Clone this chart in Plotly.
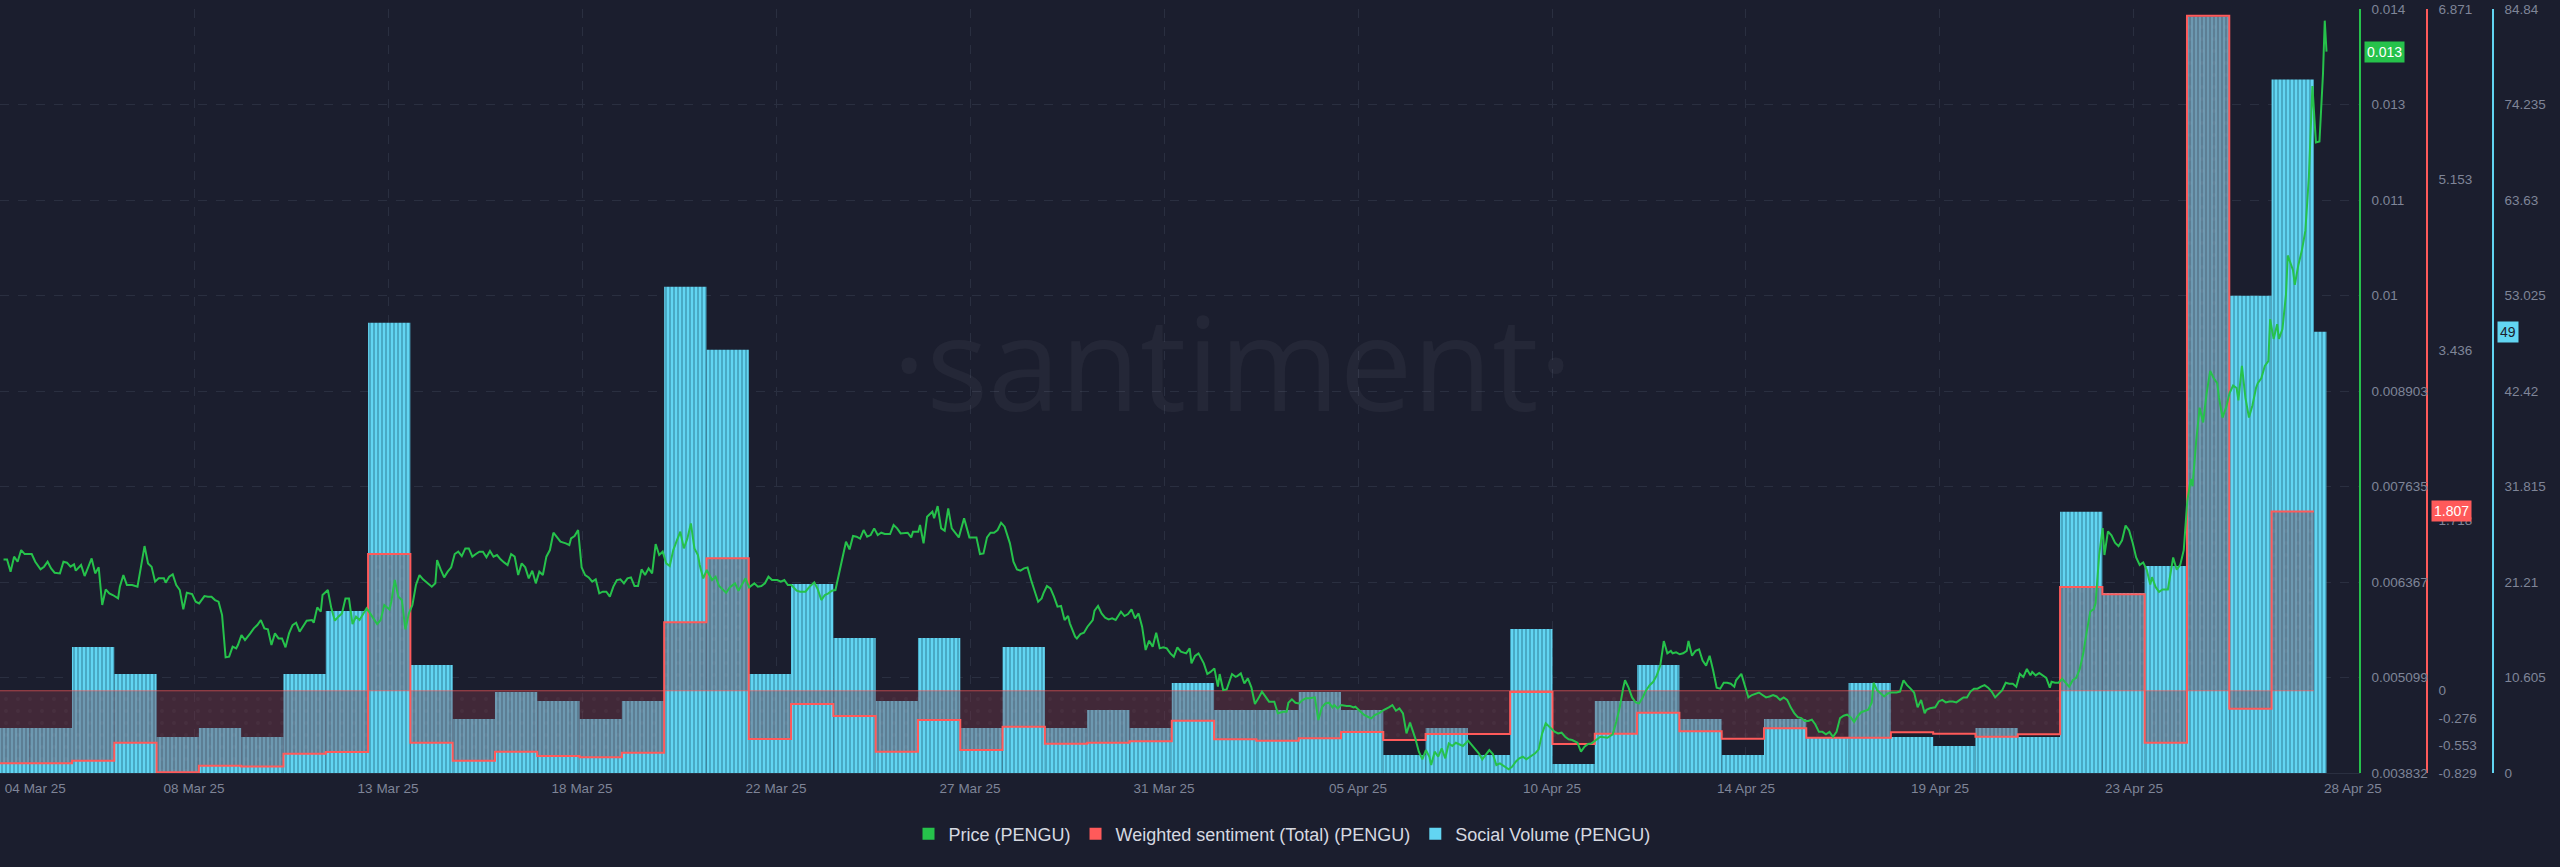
import numpy as np
import pandas as pd
import plotly.graph_objects as go

# ---------------- data ----------------
DAY0 = pd.Timestamp("2025-03-04 01:30")       # start of the first daily bucket
PRICE_T0 = pd.Timestamp("2025-03-04 08:40")   # origin of the price hour offsets
VIEW = [pd.Timestamp("2025-03-04 08:40"), pd.Timestamp("2025-04-29 03:40")]

# daily social volume, 04 Mar .. 28 Apr (last day partial)
social_volume = [5, 5, 14, 11, 4, 5, 4, 11, 18, 50, 12, 6, 9, 8, 6, 8, 54, 47, 11, 21,
                 15, 8, 15, 5, 14, 5, 7, 5, 10, 7, 7, 9, 7, 2, 5, 2, 16, 1, 8, 12,
                 6, 2, 6, 4, 10, 4, 3, 5, 4, 29, 20, 23, 84, 53, 77, 49]

# daily weighted sentiment, 04 Mar .. 27 Apr
weighted_sentiment = [-0.731, -0.731, -0.705, -0.524, -0.821, -0.757, -0.763, -0.634, -0.617, 1.378,
                      -0.524, -0.705, -0.614, -0.658, -0.671, -0.624, 0.690, 1.335, -0.486, -0.134,
                      -0.254, -0.614, -0.295, -0.597, -0.362, -0.534, -0.524, -0.510, -0.302, -0.489,
                      -0.503, -0.479, -0.416, -0.496, -0.436, -0.436, -0.013, -0.537, -0.434, -0.221,
                      -0.409, -0.483, -0.379, -0.473, -0.473, -0.419, -0.434, -0.464, -0.439, 1.046,
                      0.972, -0.523, 6.803, -0.181, 1.807]

# price (USD), hours after PRICE_T0
price_hours = [2, 4, 6, 8, 10, 12, 14, 18, 20, 23, 25, 27, 29, 31, 34, 36, 38, 40, 42, 43, 46, 48, 50, 52, 54, 56, 58, 60, 62, 64, 67, 68, 70, 72, 75, 78, 80, 82, 84, 86, 88, 90, 93, 94, 96, 98, 100, 102, 104, 106, 109, 111, 113, 116, 118, 120, 122, 124, 126, 128, 130, 132, 134, 135, 137, 139, 142, 144, 146, 148, 150, 152, 154, 156, 158, 160, 162, 164, 166, 168, 170, 172, 174, 177, 178, 180, 182, 183, 186, 188, 190, 192, 194, 196, 198, 200, 202, 204, 206, 208, 210, 212, 214, 216, 218, 221, 222, 224, 226, 228, 230, 232, 234, 236, 238, 240, 243, 245, 247, 248, 250, 252, 254, 256, 258, 260, 262, 264, 266, 268, 270, 272, 274, 276, 278, 280, 282, 284, 286, 288, 290, 292, 294, 296, 298, 300, 302, 304, 306, 308, 310, 312, 314, 316, 318, 321, 323, 324, 326, 328, 330, 332, 334, 336, 338, 340, 342, 344, 346, 348, 350, 352, 354, 356, 358, 360, 362, 364, 366, 368, 370, 372, 374, 376, 378, 380, 382, 384, 386, 388, 390, 392, 394, 396, 397, 399, 401, 404, 406, 408, 410, 412, 414, 417, 419, 421, 423, 425, 428, 430, 432, 434, 436, 438, 441, 443, 445, 447, 449, 452, 454,
               457, 459, 462, 464, 466, 468, 470, 472, 474, 477, 479, 480, 482, 484, 486, 488, 490, 492, 494, 496, 498, 500, 502, 505, 507, 509, 511, 513, 515, 517, 518, 521, 522, 524, 526, 529, 530, 532, 534, 536, 538, 540, 542, 544, 547, 548, 550, 552, 554, 556, 558, 560, 562, 564, 566, 568, 570, 573, 575, 577, 579, 581, 583, 585, 587, 589, 591, 592, 594, 596, 598, 600, 602, 604, 606, 607, 610, 611, 613, 615, 617, 620, 621, 623, 625, 627, 629, 631, 633, 636, 638, 640, 642, 644, 646, 648, 650, 652, 654, 656, 658, 660, 662, 664, 666, 668, 670, 673, 675, 676, 678, 680, 683, 685, 687, 689, 691, 692, 694, 696, 699, 701, 702, 704, 706, 708, 710, 712, 714, 716, 718, 720, 723, 725, 728, 730, 731, 733, 735, 737, 739, 741, 743, 746, 748, 750, 752, 754, 756, 757, 759, 761, 764, 766, 768, 769, 772, 774, 776, 778, 780, 783, 785, 786, 788, 790, 792, 794, 796, 798, 800, 803, 805, 807, 809, 811, 812, 814, 816, 818, 820, 822, 824, 826, 828, 830, 833, 835, 837, 839, 841, 843, 845, 847, 849, 851, 853, 856, 858, 860, 862, 864, 866, 868, 871, 873, 875, 877, 879, 882, 884, 886, 888, 890, 892, 895, 897, 899, 901, 903, 905, 907,
               908, 912, 915, 917, 919, 921, 922, 924, 926, 928, 930, 932, 934, 936, 938, 940, 942, 943, 944, 946, 948, 949, 951, 953, 955, 957, 958, 960, 962, 964, 966, 968, 970, 972, 974, 976, 978, 980, 982, 984, 985, 988, 990, 992, 994, 996, 998, 1000, 1002, 1004, 1006, 1008, 1010, 1012, 1014, 1016, 1018, 1020, 1022, 1024, 1026, 1028, 1030, 1032, 1034, 1036, 1038, 1040, 1042, 1044, 1046, 1048, 1050, 1052, 1054, 1056, 1058, 1060, 1062, 1063, 1065, 1067, 1069, 1071, 1073, 1076, 1078, 1080, 1082, 1084, 1086, 1088, 1090, 1092, 1093, 1095, 1098, 1100, 1102, 1104, 1106, 1108, 1110, 1112, 1114, 1116, 1118, 1120, 1122, 1124, 1126, 1128, 1130, 1132, 1134, 1136, 1138, 1140, 1142, 1144, 1146, 1148, 1150, 1152, 1153, 1155, 1157, 1159, 1161, 1163, 1164, 1166, 1168, 1170, 1172, 1174, 1176, 1178, 1180, 1182, 1184, 1186, 1188, 1189, 1191, 1193, 1194, 1196, 1198, 1200, 1202, 1204, 1206, 1208, 1210, 1212, 1214, 1216, 1218, 1220, 1221, 1223, 1225, 1227, 1230, 1232, 1233, 1235, 1237, 1239, 1240, 1241, 1243, 1244, 1246, 1248, 1250, 1252, 1254, 1256, 1258, 1259, 1261, 1263, 1265, 1267, 1269, 1270, 1272, 1274, 1276, 1278, 1280, 1281, 1283, 1285, 1287, 1288, 1290, 1292, 1293, 1295, 1297, 1298, 1301, 1302, 1304, 1306, 1308, 1310, 1312, 1313, 1314, 1316, 1318, 1319, 1320]

price_usd = [0.006668, 0.006668, 0.006505, 0.006704, 0.006637, 0.006792, 0.006739, 0.006739, 0.006637, 0.006535, 0.006571, 0.006637, 0.006549, 0.006491, 0.006482, 0.006637, 0.006624, 0.006571, 0.006602, 0.006518, 0.006593, 0.006447, 0.006562, 0.006681, 0.006482, 0.006562, 0.006062, 0.006270, 0.006217, 0.006195, 0.006150, 0.006306, 0.006460, 0.006328, 0.006328, 0.006306, 0.006571, 0.006845, 0.006615, 0.006571, 0.006372, 0.006416, 0.006416, 0.006359, 0.006438, 0.006469, 0.006328, 0.006261, 0.006004, 0.006226, 0.006208, 0.006106, 0.006084, 0.006181, 0.006173, 0.006173, 0.006128, 0.006106, 0.005929, 0.005367, 0.005376, 0.005509, 0.005487, 0.005531, 0.005664, 0.005597, 0.005686, 0.005752, 0.005796, 0.005863, 0.005752, 0.005739, 0.005531, 0.005686, 0.005619, 0.005619, 0.005500, 0.005686, 0.005796, 0.005827, 0.005708, 0.005783, 0.005854, 0.005863, 0.005827, 0.006031, 0.005973, 0.006195, 0.006261, 0.006018, 0.005854, 0.005907, 0.005951, 0.006150, 0.006150, 0.005810, 0.005907, 0.005863, 0.005951, 0.006018, 0.005951, 0.005885, 0.005810, 0.005863, 0.006062, 0.006004, 0.006106, 0.006394, 0.006173, 0.006128, 0.005739, 0.005951, 0.006062, 0.006328, 0.006460, 0.006403, 0.006350, 0.006306, 0.006350, 0.006659, 0.006535, 0.006429, 0.006505, 0.006562, 0.006739, 0.006770, 0.006712, 0.006814, 0.006814, 0.006704, 0.006739, 0.006770, 0.006770, 0.006695, 0.006779, 0.006704, 0.006726, 0.006668, 0.006628, 0.006593, 0.006739, 0.006704, 0.006460, 0.006615, 0.006562, 0.006416, 0.006518, 0.006350, 0.006505, 0.006460, 0.006704, 0.006792, 0.007022, 0.006960, 0.006903, 0.006881, 0.006859, 0.006947, 0.006978, 0.007058, 0.006562, 0.006460, 0.006429, 0.006372, 0.006403, 0.006217, 0.006239, 0.006239, 0.006173, 0.006306, 0.006394, 0.006403, 0.006350, 0.006416, 0.006429, 0.006314, 0.006314, 0.006535, 0.006460, 0.006549, 0.006482, 0.006872, 0.006726, 0.006770, 0.006615, 0.006580, 0.006792, 0.006916, 0.007036, 0.006814, 0.006947, 0.007146, 0.006814, 0.006726, 0.006593, 0.006416, 0.006527, 0.006394, 0.006438, 0.006314, 0.006270, 0.006226, 0.006297, 0.006350, 0.006252, 0.006328, 0.006416, 0.006297, 0.006350, 0.006306, 0.006314, 0.006350, 0.006438, 0.006394, 0.006394, 0.006372, 0.006394, 0.006328, 0.006328, 0.006252, 0.006239,
             0.006239, 0.006297, 0.006363, 0.006270, 0.006128, 0.006195, 0.006217, 0.006252, 0.006261, 0.006571, 0.006814, 0.006903, 0.006801, 0.006978, 0.006969, 0.006943, 0.007058, 0.006969, 0.006991, 0.007080, 0.006991, 0.007022, 0.007005, 0.007005, 0.007124, 0.007080, 0.007013, 0.007013, 0.007022, 0.006960, 0.007036, 0.007036, 0.007124, 0.006881, 0.007235, 0.007301, 0.007213, 0.007376, 0.007080, 0.007049, 0.007345, 0.007080, 0.007013, 0.006960, 0.007213, 0.007137, 0.006960, 0.006960, 0.006960, 0.006739, 0.006748, 0.006960, 0.007022, 0.007022, 0.007058, 0.007155, 0.007102, 0.006881, 0.006637, 0.006535, 0.006518, 0.006549, 0.006562, 0.006394, 0.006239, 0.006106, 0.006150, 0.006217, 0.006314, 0.006283, 0.006173, 0.006040, 0.006049, 0.005863, 0.005916, 0.005819, 0.005642, 0.005619, 0.005677, 0.005695, 0.005774, 0.005863, 0.005987, 0.006049, 0.005951, 0.005894, 0.005872, 0.005885, 0.005863, 0.005973, 0.005916, 0.005942, 0.006004, 0.005885, 0.005951, 0.005774, 0.005465, 0.005588, 0.005509, 0.005695, 0.005487, 0.005500, 0.005487, 0.005420, 0.005376, 0.005500, 0.005442, 0.005420, 0.005487, 0.005288, 0.005385, 0.005420, 0.005288, 0.005146, 0.005177, 0.005221, 0.004978, 0.005146, 0.004933, 0.004942, 0.005146, 0.005110, 0.005119, 0.005155, 0.005022, 0.005088, 0.004969, 0.004748, 0.004823, 0.004911, 0.004845, 0.004779, 0.004779, 0.004624, 0.004646, 0.004646, 0.004765, 0.004810, 0.004765, 0.004756, 0.004801, 0.004823, 0.004823, 0.004836, 0.004535, 0.004703, 0.004756, 0.004765, 0.004703, 0.004734, 0.004690, 0.004734, 0.004721, 0.004721, 0.004703, 0.004712, 0.004646, 0.004602, 0.004579, 0.004557, 0.004602, 0.004633, 0.004668, 0.004677, 0.004703, 0.004734, 0.004659, 0.004690, 0.004624, 0.004358, 0.004500, 0.004292, 0.004115, 0.004013, 0.004137, 0.004048, 0.003938, 0.004115, 0.004048, 0.004159, 0.004026, 0.004225, 0.004190, 0.004234, 0.004217, 0.004190, 0.004261, 0.004203, 0.004137, 0.004093, 0.004013, 0.004084, 0.004137, 0.004084, 0.003938, 0.003960, 0.003924, 0.003880, 0.003916, 0.003982, 0.004026, 0.004048, 0.004013, 0.004048, 0.004093, 0.004146, 0.004358, 0.004491, 0.004447, 0.004380, 0.004358, 0.004367, 0.004314, 0.004279, 0.004270, 0.004234, 0.004115, 0.004181, 0.004217, 0.004225, 0.004261, 0.004292,
             0.004313, 0.004300, 0.004346, 0.004509, 0.004704, 0.004965, 0.005063, 0.004965, 0.004835, 0.004769, 0.004756, 0.004835, 0.004932, 0.004998, 0.005043, 0.005128, 0.005258, 0.005421, 0.005584, 0.005421, 0.005454, 0.005421, 0.005434, 0.005408, 0.005421, 0.005454, 0.005584, 0.005389, 0.005454, 0.005474, 0.005324, 0.005258, 0.005389, 0.005193, 0.004965, 0.004952, 0.005030, 0.005030, 0.005017, 0.004978, 0.005063, 0.005148, 0.004998, 0.004835, 0.004867, 0.004887, 0.004900, 0.004867, 0.004835, 0.004848, 0.004867, 0.004848, 0.004802, 0.004835, 0.004802, 0.004704, 0.004626, 0.004574, 0.004561, 0.004522, 0.004522, 0.004541, 0.004476, 0.004378, 0.004378, 0.004346, 0.004378, 0.004313, 0.004378, 0.004561, 0.004593, 0.004606, 0.004574, 0.004509, 0.004587, 0.004639, 0.004652, 0.004672, 0.004769, 0.005030, 0.004932, 0.004887, 0.004848, 0.004887, 0.004900, 0.004900, 0.004913, 0.005063, 0.004998, 0.004952, 0.004900, 0.004704, 0.004802, 0.004626, 0.004672, 0.004691, 0.004704, 0.004782, 0.004802, 0.004769, 0.004782, 0.004782, 0.004769, 0.004802, 0.004835, 0.004835, 0.004913, 0.004952, 0.004952, 0.004978, 0.004998, 0.004965, 0.004913, 0.004835, 0.004887, 0.004932, 0.005030, 0.005017, 0.005017, 0.004978, 0.005148, 0.005108, 0.005213, 0.005128, 0.005174, 0.005128, 0.005161, 0.005128, 0.005095, 0.004965, 0.005043, 0.005030, 0.005030, 0.005082, 0.005030, 0.004978, 0.005063, 0.005095, 0.005213, 0.005421, 0.005715, 0.005976, 0.006008, 0.006087, 0.006726, 0.007084, 0.006726, 0.007039, 0.006986, 0.006889, 0.006843, 0.006921, 0.007117, 0.007052, 0.006889, 0.006693, 0.006595, 0.006628, 0.006530, 0.006334, 0.006432, 0.006302, 0.006237, 0.006269, 0.006269, 0.006530, 0.006693, 0.006530, 0.006595, 0.006791, 0.007117, 0.007443, 0.007736, 0.007639, 0.008225, 0.008682, 0.008486, 0.008877, 0.009171, 0.009073, 0.009008, 0.008812, 0.008551, 0.008682, 0.008877, 0.008975, 0.008943, 0.008780, 0.009236, 0.008812, 0.008551, 0.008714, 0.008943, 0.009008, 0.009073, 0.009236, 0.009301, 0.009856, 0.009595, 0.009790, 0.009595, 0.009725, 0.010182, 0.010703, 0.010508, 0.010312, 0.010573, 0.010768, 0.011029, 0.011747, 0.012953, 0.012529, 0.012203, 0.012216, 0.013116, 0.013820, 0.013409]

x_tick_labels = ["04 Mar 25", "08 Mar 25", "13 Mar 25", "18 Mar 25", "22 Mar 25", "27 Mar 25",
                 "31 Mar 25", "05 Apr 25", "10 Apr 25", "14 Apr 25", "19 Apr 25", "23 Apr 25", "28 Apr 25"]

price_range = [0.003832, 0.013975]
price_tick_labels = ["0.003832", "0.005099", "0.006367", "0.007635", "0.008903", "0.01", "0.011", "0.013", "0.014"]
sent_tick_vals = [-0.829, -0.553, -0.276, 0, 1.718, 3.436, 5.153, 6.871]
sent_range = [-0.829, 6.871]
social_range = [0, 84.84]
social_tick_labels = ["0", "10.605", "21.21", "31.815", "42.42", "53.025", "63.63", "74.235", "84.84"]

# ---------------- styling ----------------
BG = "#1b1e2e"
GRID = "#2a2f40"
TICK = "#7f8598"
GREEN = "#26c24b"
RED = "#ff5a5a"
CYAN = "#62d5f2"
FONT = "Liberation Sans, Arial, sans-serif"

PAPER_W = 2550.0
PLOT_RIGHT = 2360.0

def pad(r):
    e = (r[1] - r[0]) * 1e-6
    return [r[0] - e, r[1] + e]

# ---------------- derived series ----------------
n_days = len(social_volume)
day_starts = [DAY0 + pd.Timedelta(days=i) for i in range(n_days)]
price_times = [PRICE_T0 + pd.Timedelta(hours=h) for h in price_hours]
bar_ends = [s + pd.Timedelta(days=1) for s in day_starts]
bar_ends[-1] = price_times[-1]
bar_x = [s + (e - s) / 2 for s, e in zip(day_starts, bar_ends)]
bar_w = [(e - s).total_seconds() * 1000 for s, e in zip(day_starts, bar_ends)]

sent_x = day_starts[:len(weighted_sentiment)] + [day_starts[len(weighted_sentiment)]]
sent_y = weighted_sentiment + [weighted_sentiment[-1]]

fig = go.Figure()

fig.add_trace(go.Bar(
    x=bar_x, y=social_volume, width=bar_w, yaxis="y",
    marker=dict(color=CYAN, line=dict(width=0),
                pattern=dict(shape="|", fillmode="overlay", fgcolor="#1f6178",
                             size=4, solidity=0.38)),
    showlegend=False, hoverinfo="skip"))

fig.add_trace(go.Scatter(
    x=sent_x, y=sent_y, yaxis="y2", mode="lines", line=dict(color=RED, width=2, shape="hv"),
    fill="tozeroy", fillcolor="rgba(125,55,72,0.38)",
    fillpattern=dict(shape=".", fillmode="overlay", fgcolor="rgba(255,255,255,0.07)",
                     bgcolor="rgba(125,55,72,0.38)", size=12, solidity=0.08),
    showlegend=False, hoverinfo="skip"))

fig.add_trace(go.Scatter(
    x=[sent_x[0], sent_x[-1]], y=[0, 0], yaxis="y2", mode="lines",
    line=dict(color="rgba(255,90,90,0.65)", width=1.2), showlegend=False, hoverinfo="skip"))

fig.add_trace(go.Scatter(
    x=price_times, y=price_usd, yaxis="y3", mode="lines",
    line=dict(color=GREEN, width=2), showlegend=False, hoverinfo="skip"))

for name, col in [("Price (PENGU)", GREEN), ("Weighted sentiment (Total) (PENGU)", RED),
                  ("Social Volume (PENGU)", CYAN)]:
    fig.add_trace(go.Scatter(x=[None], y=[None], mode="markers", name=name,
                             marker=dict(symbol="square", size=12, color=col)))

# tick positions (hours after view start)
interior = [k * 110.07 for k in range(1, 12)]
x_tick_vals = [VIEW[0] + pd.Timedelta(hours=h) for h in [20] + interior + [1335]]
x_grid_vals = [VIEW[0] + pd.Timedelta(hours=h) for h in interior]

axis_font = dict(size=13.5, color=TICK, family=FONT)

fig.update_layout(
    width=2560, height=867,
    margin=dict(l=0, r=10, t=9, b=94),
    paper_bgcolor=BG, plot_bgcolor=BG,
    font=dict(family=FONT, color=TICK),
    legend=dict(orientation="h", x=1282 / PAPER_W, xanchor="center", y=-0.08, yanchor="middle",
                font=dict(size=18, color="#d6d9e1", family=FONT), bgcolor="rgba(0,0,0,0)",
                itemclick=False, itemdoubleclick=False, tracegroupgap=0),
    xaxis=dict(type="date", domain=[0, PLOT_RIGHT / PAPER_W], range=VIEW,
               tickmode="array", tickvals=x_tick_vals, ticktext=x_tick_labels,
               showgrid=False, ticks="", tickfont=axis_font, ticklabelstandoff=3,
               showline=True, linecolor="#2a2f40", linewidth=1, zeroline=False,
               automargin=False, fixedrange=True,
               minor=dict(tickmode="array", tickvals=x_grid_vals, showgrid=True,
                          gridcolor=GRID, griddash="dash", gridwidth=1, ticks="")),
    yaxis=dict(anchor="free", position=2493 / PAPER_W, side="right", range=pad(social_range),
               tickmode="array", tickvals=list(np.linspace(0, 84.84, 9)), ticktext=social_tick_labels,
               showgrid=True, gridcolor=GRID, griddash="dash", gridwidth=1, zeroline=False,
               showline=True, linecolor=CYAN, linewidth=1.5, ticks="", tickfont=axis_font,
               ticklabelstandoff=8, automargin=False, fixedrange=True),
    yaxis2=dict(overlaying="y", anchor="free", position=2427 / PAPER_W, side="right",
                range=pad(sent_range), tickmode="array", tickvals=sent_tick_vals,
                ticktext=[f"{v:g}" for v in sent_tick_vals], showgrid=False, zeroline=False,
                showline=True, linecolor=RED, linewidth=1.5, ticks="", tickfont=axis_font,
                ticklabelstandoff=8, automargin=False, fixedrange=True),
    yaxis3=dict(overlaying="y", anchor="free", position=PLOT_RIGHT / PAPER_W, side="right",
                range=pad(price_range), tickmode="array",
                tickvals=list(np.linspace(price_range[0], price_range[1], 9)),
                ticktext=price_tick_labels, showgrid=False, zeroline=False,
                showline=True, linecolor=GREEN, linewidth=1.5, ticks="", tickfont=axis_font,
                ticklabelstandoff=8, automargin=False, fixedrange=True),
)

# watermark
fig.add_annotation(text="·santiment·", xref="paper", yref="paper", x=1232 / PAPER_W, y=0.54,
                   xanchor="center", yanchor="middle", showarrow=False,
                   font=dict(size=130, color="rgba(255,255,255,0.045)", family="Open Sans, sans-serif"))

# last-value badges
badge_font = dict(size=14, family=FONT)
fig.add_annotation(text=f"{price_usd[-1]:.3f}", xref="paper", yref="y3", x=2364 / PAPER_W, y=price_usd[-1],
                   xanchor="left", yanchor="middle", showarrow=False, bgcolor=GREEN, borderpad=2,
                   font=dict(color="white", **badge_font))
fig.add_annotation(text=f"{weighted_sentiment[-1]:.3f}", xref="paper", yref="y2", x=2431 / PAPER_W,
                   y=weighted_sentiment[-1], xanchor="left", yanchor="middle", showarrow=False,
                   bgcolor=RED, borderpad=2, font=dict(color="white", **badge_font))
fig.add_annotation(text=f"{social_volume[-1]}", xref="paper", yref="y", x=2497 / PAPER_W,
                   y=social_volume[-1], xanchor="left", yanchor="middle", showarrow=False,
                   bgcolor=CYAN, borderpad=2, font=dict(color=BG, **badge_font))

fig.write_html("out.html", config={"displayModeBar": False},
               post_script="document.body.style.margin='0px';")
